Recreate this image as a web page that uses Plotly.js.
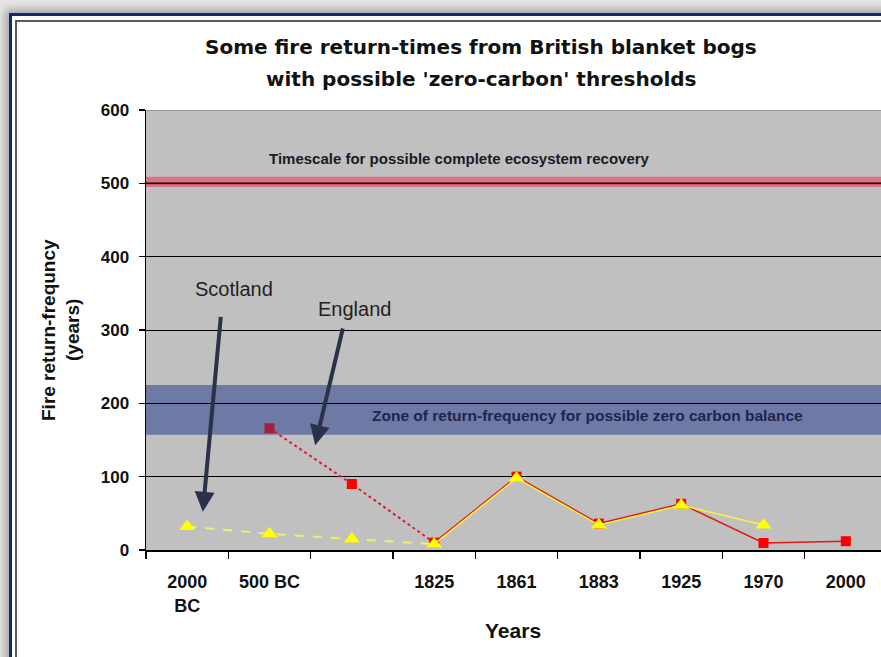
<!DOCTYPE html>
<html>
<head>
<meta charset="utf-8">
<script src="https://cdn.plot.ly/plotly-3.0.1.min.js"></script>
<style>
  html, body { margin:0; padding:0; width:881px; height:657px; overflow:hidden; background:#e8e8e8; }
  #frame { position:absolute; left:9px; top:13px; width:1100px; height:800px; border:3px solid #102c6e; background:#fff;
           box-shadow: 0 0 9px 4px rgba(110,110,110,0.55); }
  #inner { position:absolute; left:3px; top:4px; width:1200px; height:900px; border:2px solid #5a5a5a; }
  #chart { position:absolute; left:0; top:0; width:1000px; height:657px; z-index:2; }
</style>
</head>
<body>
<div id="frame"><div id="inner"></div></div>
<div id="chart"></div>
<script>
// ---- data ----
const categories = ['2000<br>BC', '500 BC', '', '1825', '1861', '1883', '1925', '1970', '2000'];
const scotland   = [32, 22, 15, 8, 98, 34, 61, 34, null];
const england    = [null, 166, 90, 10, 100, 36, 63, 9.5, 12];
const englandMarkerColors = ['#ff0000', '#a0203c', '#ff0000', '#ff0000', '#ff0000', '#ff0000', '#ff0000', '#ff0000', '#ff0000'];
const brokenUntil = 3;            // index where the dashed/dotted early part ends (1825)
const recoveryLevel = 500;
const recoveryBand = [495, 509];
const zeroCarbonBand = [157, 225];
const yTicks = [0, 100, 200, 300, 400, 500, 600];

const idx = categories.map((_, i) => i);
function part(arr, a, b) {
  const xs = [], ys = [];
  for (let i = a; i <= b; i++) { if (arr[i] !== null) { xs.push(idx[i]); ys.push(arr[i]); } }
  return {x: xs, y: ys};
}

const engEarly = part(england, 0, brokenUntil);
const engLate  = part(england, brokenUntil, england.length - 1);
const scoEarly = part(scotland, 0, brokenUntil);
const scoLate  = part(scotland, brokenUntil, scotland.length - 1);

const traces = [
  {x: engEarly.x, y: engEarly.y, mode: 'lines', line: {color: '#d42035', width: 2, dash: 'dot'}, hoverinfo: 'skip', showlegend: false},
  {x: engLate.x,  y: engLate.y,  mode: 'lines', line: {color: '#e01818', width: 1.5}, hoverinfo: 'skip', showlegend: false},
  {x: idx, y: england, mode: 'markers', name: 'England',
   marker: {symbol: 'square', size: 10, color: englandMarkerColors, line: {width: 0}}, showlegend: false},
  {x: scoEarly.x, y: scoEarly.y, mode: 'lines', line: {color: '#f0f06a', width: 2, dash: 'dash'}, hoverinfo: 'skip', showlegend: false},
  {x: scoLate.x,  y: scoLate.y,  mode: 'lines', line: {color: '#f5f53c', width: 1.5}, hoverinfo: 'skip', showlegend: false},
  {x: idx, y: scotland, mode: 'markers', name: 'Scotland',
   marker: {symbol: 'triangle-up', size: 14, color: '#ffff00', line: {width: 0}}, showlegend: false}
];

const plotL = 146, plotR = 887, plotT = 110, plotB = 550;
const W = 1000, H = 657;
const px2paperX = p => (p - plotL) / (plotR - plotL);
const px2paperY = p => (plotB - p) / (plotB - plotT);
const SANS = 'Liberation Sans, Arial, sans-serif';
const WIDE = 'DejaVu Sans, Verdana, sans-serif';

const layout = {
  width: W, height: H,
  margin: {l: plotL, r: W - plotR, t: plotT, b: H - plotB, pad: 0},
  paper_bgcolor: 'rgba(0,0,0,0)',
  plot_bgcolor: '#c0c0c0',
  showlegend: false,
  font: {family: SANS, color: '#000'},
  xaxis: {
    range: [-0.5, categories.length - 0.5],
    tickmode: 'array', tickvals: idx, ticktext: categories,
    ticks: '', showgrid: false, zeroline: false,
    showline: true, linecolor: '#000', linewidth: 1.5,
    ticklabelstandoff: 15,
    tickfont: {size: 18, family: SANS, weight: 'bold', color: '#111'},
    minor: {tickmode: 'linear', tick0: -0.5, dtick: 1, ticks: 'outside', ticklen: 7, tickwidth: 1.5, tickcolor: '#000', showgrid: false},
    fixedrange: true
  },
  yaxis: {
    range: [0, 600], tickmode: 'array', tickvals: yTicks,
    ticks: 'outside', ticklen: 6, tickwidth: 1.5, tickcolor: '#000',
    showgrid: true, gridcolor: '#000', gridwidth: 1,
    zeroline: false, showline: true, linecolor: '#000', linewidth: 1.5,
    ticklabelstandoff: 6,
    tickfont: {size: 17, family: SANS, weight: 'bold', color: '#111'},
    fixedrange: true
  },
  shapes: [
    {type: 'rect', xref: 'paper', yref: 'y', x0: 0, x1: 1, y0: zeroCarbonBand[0], y1: zeroCarbonBand[1],
     fillcolor: '#6f79a6', line: {width: 0}, layer: 'below'},
    {type: 'rect', xref: 'paper', yref: 'y', x0: 0, x1: 1, y0: recoveryBand[0], y1: recoveryBand[1],
     fillcolor: '#d87583', line: {width: 0}, layer: 'between'},
    {type: 'line', xref: 'paper', yref: 'y', x0: 0, x1: 1, y0: recoveryLevel, y1: recoveryLevel,
     line: {color: '#6a1a30', width: 2}, layer: 'between'},
    {type: 'line', xref: 'paper', yref: 'y', x0: 0, x1: 1, y0: 600, y1: 600,
     line: {color: '#8c8c8c', width: 1.5}, layer: 'between'}
  ],
  annotations: [
    {text: 'Some fire return-times from British blanket bogs', xref: 'paper', yref: 'paper',
     x: px2paperX(481), y: px2paperY(47), xanchor: 'center', yanchor: 'middle', showarrow: false,
     font: {size: 20, family: WIDE, weight: 'bold', color: '#111'}},
    {text: "with possible 'zero-carbon' thresholds", xref: 'paper', yref: 'paper',
     x: px2paperX(481), y: px2paperY(79), xanchor: 'center', yanchor: 'middle', showarrow: false,
     font: {size: 20, family: WIDE, weight: 'bold', color: '#111'}},
    {text: 'Years', xref: 'paper', yref: 'paper', x: px2paperX(513), y: px2paperY(630),
     xanchor: 'center', yanchor: 'middle', showarrow: false, font: {size: 21, weight: 'bold', color: '#111'}},
    {text: 'Fire return-frequncy', xref: 'paper', yref: 'paper', x: px2paperX(48), y: 0.5, textangle: -90,
     xanchor: 'center', yanchor: 'middle', showarrow: false, font: {size: 19, weight: 'bold', color: '#111'}},
    {text: '(years)', xref: 'paper', yref: 'paper', x: px2paperX(72), y: 0.5, textangle: -90,
     xanchor: 'center', yanchor: 'middle', showarrow: false, font: {size: 19, weight: 'bold', color: '#111'}},
    {text: 'Timescale for possible complete ecosystem recovery', xref: 'paper', yref: 'y',
     x: px2paperX(459), y: 534, xanchor: 'center', yanchor: 'middle', showarrow: false,
     font: {size: 15, weight: 'bold', color: '#1a1a28'}},
    {text: 'Zone of return-frequency for possible zero carbon balance', xref: 'paper', yref: 'y',
     x: px2paperX(587), y: 183, xanchor: 'center', yanchor: 'middle', showarrow: false,
     font: {size: 15.5, weight: 'bold', color: '#1c2550'}},
    {text: 'Scotland', xref: 'paper', yref: 'y', x: px2paperX(234), y: 356, xanchor: 'center', yanchor: 'middle',
     showarrow: false, font: {size: 20, color: '#222'}},
    {text: 'England', xref: 'paper', yref: 'y', x: px2paperX(354), y: 329, xanchor: 'center', yanchor: 'middle',
     showarrow: false, font: {size: 20, color: '#222'}},
    {text: '', x: 0.19, y: 52, xref: 'x', yref: 'y', ax: 0.41, ay: 320, axref: 'x', ayref: 'y',
     showarrow: true, arrowhead: 2, arrowsize: 1, arrowwidth: 4, arrowcolor: '#2b3148'},
    {text: '', x: 1.555, y: 143, xref: 'x', yref: 'y', ax: 1.895, ay: 304, axref: 'x', ayref: 'y',
     showarrow: true, arrowhead: 2, arrowsize: 1, arrowwidth: 4, arrowcolor: '#2b3148'}
  ]
};

Plotly.newPlot('chart', traces, layout, {displayModeBar: false, staticPlot: true});
</script>
</body>
</html>
